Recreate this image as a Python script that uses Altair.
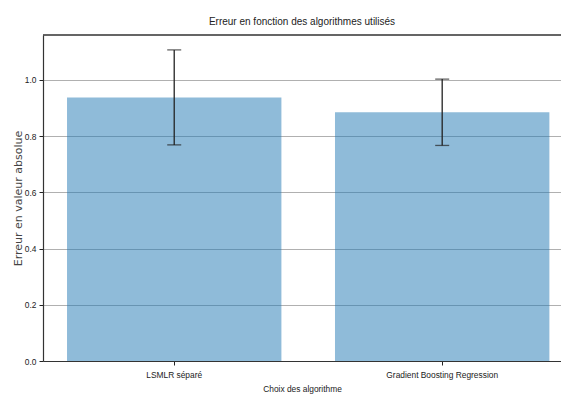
import altair as alt
import pandas as pd

algorithms = ["LSMLR séparé", "Gradient Boosting Regression"]
errors = [0.938, 0.885]
stds = [0.169, 0.118]

df = pd.DataFrame({"algo": algorithms, "err": errors, "std": stds})

FONT = "Liberation Sans, Arial, sans-serif"
W, H = 518, 326

x = alt.X("algo:N", sort=algorithms, title="Choix des algorithme",
          scale=alt.Scale(paddingInner=0.2, paddingOuter=0.0665, align=0.674),
          axis=alt.Axis(labelAngle=0, labelFont=FONT, labelFontSize=8.4, labelColor="#222",
                        titleFont=FONT, titleFontSize=8.4, titleFontWeight="normal", titleColor="#222",
                        titlePadding=6, labelPadding=5,
                        tickSize=4, tickColor="#222", domainColor="#333", domainWidth=1.2))

y_scale = alt.Scale(domain=[0, 1.16], nice=False)

bars = alt.Chart(df).mark_bar(color="#1f77b4", opacity=0.5).encode(
    x=x,
    y=alt.Y("err:Q", scale=y_scale, title="Erreur en valeur absolue",
            axis=alt.Axis(values=[0, 0.2, 0.4, 0.6, 0.8, 1.0], format=".1f",
                          labelFont=FONT, labelFontSize=8.4, labelColor="#222", labelPadding=3,
                          titleFont="DejaVu Sans", titleFontSize=11, titleFontWeight="normal",
                          titleColor="#444", titlePadding=1,
                          tickSize=4, tickColor="#222", domainColor="#333", domainWidth=1.2,
                          grid=True, gridColor="#b0b0b0", gridWidth=1)),
)

base_err = alt.Chart(df).transform_calculate(
    lo="datum.err - datum.std", hi="datum.err + datum.std"
)

rules = base_err.mark_rule(color="#222", strokeWidth=1.3).encode(
    x=alt.X("algo:N", sort=algorithms),
    y=alt.Y("lo:Q", scale=y_scale),
    y2="hi:Q",
)
cap_lo = base_err.mark_tick(color="#222", size=14, thickness=1.3).encode(
    x=alt.X("algo:N", sort=algorithms), y=alt.Y("lo:Q", scale=y_scale))
cap_hi = base_err.mark_tick(color="#222", size=14, thickness=1.3).encode(
    x=alt.X("algo:N", sort=algorithms), y=alt.Y("hi:Q", scale=y_scale))

top_spine = alt.Chart(df).mark_rule(color="#333", strokeWidth=1.2).encode(
    x=alt.value(0), x2=alt.value(W), y=alt.value(0))

chart = alt.layer(bars, rules, cap_lo, cap_hi, top_spine).properties(
    width=W, height=H,
    title=alt.TitleParams("Erreur en fonction des algorithmes utilisés", font=FONT,
                          fontSize=10, fontWeight="normal", color="#222", offset=7),
    autosize=alt.AutoSizeParams(type="none"),
    padding={"left": 35, "top": 27, "right": 0, "bottom": 36},
).configure_view(stroke=None)

chart.save("out.html", embed_options={"renderer": "svg", "actions": False})
